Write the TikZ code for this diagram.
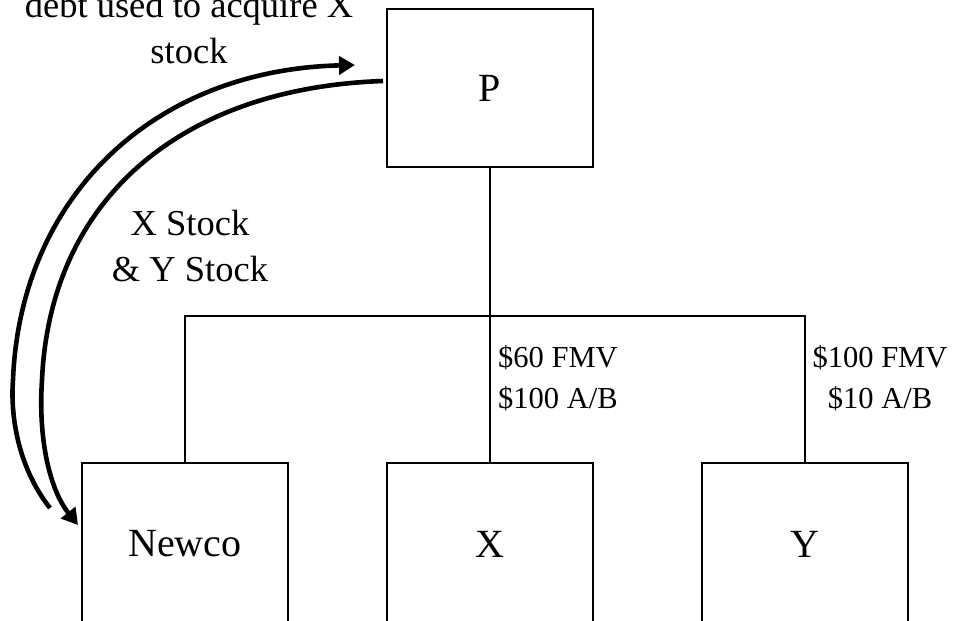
\documentclass[tikz,border=0pt]{standalone}
\usepackage{fontspec}
\setmainfont{Liberation Serif}
\usetikzlibrary{arrows.meta}
\begin{document}
\begin{tikzpicture}[x=1pt,y=-1pt,
  entity/.style={draw, line width=1.8pt, minimum width=206pt, inner sep=0pt, font=\fontsize{40}{48}\selectfont},
  link/.style={line width=1.3pt},
  flow/.style={line width=4.6pt, -{Triangle[length=16pt,width=18pt]}},
  big/.style={font=\fontsize{36.5}{46}\selectfont, inner sep=0pt},
  small/.style={font=\fontsize{30.5}{43}\selectfont, inner sep=0pt}]
\useasboundingbox (0,0) rectangle (954,621);
\clip (0,0) rectangle (954,621);
% boxes
\node[entity, minimum height=158pt] (P) at (490,88) {P};
\node[entity, minimum height=162pt] (Newco) at (185,544) {Newco};
\node[entity, minimum height=162pt] (X) at (490,544) {X};
\node[entity, minimum height=162pt] (Y) at (805,544) {Y};
% org connectors
\coordinate (bus) at (490,316);
\draw[link] (P.south) -- (X.north);
\draw[link] (Newco.north) |- (bus) -| (Y.north);
% labels
\node[small, anchor=base west] (xfmv) at (498,367) {\$60 FMV};
\node[small, anchor=base west] (xab) at (498,408) {\$100 A/B};
\node[small, anchor=base] (yfmv) at (880,367) {\$100 FMV};
\node[small, anchor=base] (yab) at (880,408) {\$10 A/B};
\node[big, anchor=base] (debt1) at (189,17) {debt used to acquire X};
\node[big, anchor=base] (debt2) at (189,63) {stock};
\node[big, anchor=base] (stk1) at (190,235) {X Stock};
\node[big, anchor=base] (stk2) at (190,281) {\& Y Stock};
% flows
\coordinate (outerstart) at (50,508);
\coordinate (outermid) at (13,380);
\coordinate (outerend) at (355,65);
\draw[flow] (outerstart) .. controls (20,470) and (10,420) .. (outermid)
   .. controls (20,200) and (150,70) .. (outerend);
\coordinate (innerstart) at (383,81);
\coordinate (innermid) at (42,380);
\coordinate (innerend) at (78,525);
\draw[flow] (innerstart) .. controls (180,88) and (50,200) .. (innermid)
   .. controls (38,440) and (50,490) .. (innerend);
\end{tikzpicture}
\end{document}
